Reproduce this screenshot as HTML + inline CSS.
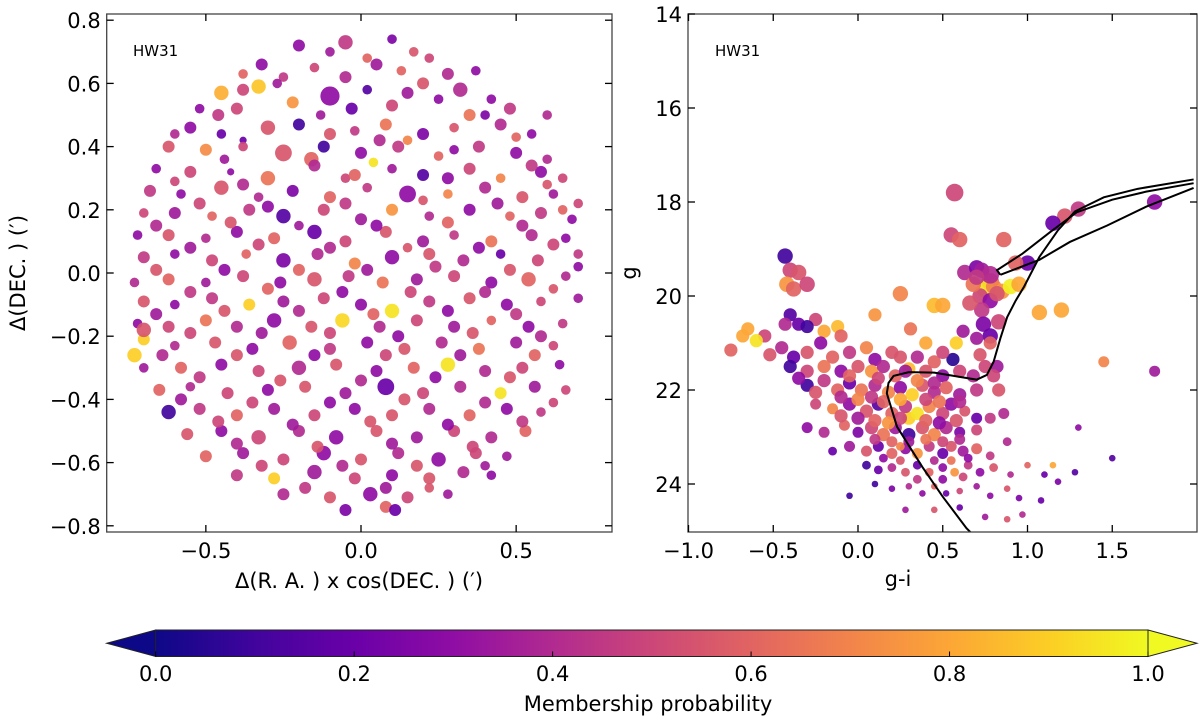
<!DOCTYPE html>
<html><head><meta charset="utf-8"><style>
html,body{margin:0;padding:0;background:#fff;}
svg{display:block;font-family:"DejaVu Sans","Liberation Sans",sans-serif;}
</style></head><body>
<svg id="fig" width="1200" height="723" viewBox="0 0 1200 723" xmlns="http://www.w3.org/2000/svg">
<defs>
<linearGradient id="plasma" x1="0" x2="1" y1="0" y2="0">
<stop offset="0" stop-color="#0d0887"/><stop offset="0.1" stop-color="#41049d"/><stop offset="0.2" stop-color="#6a00a8"/><stop offset="0.3" stop-color="#8f0da4"/><stop offset="0.4" stop-color="#b12a90"/><stop offset="0.5" stop-color="#cc4778"/><stop offset="0.6" stop-color="#e16462"/><stop offset="0.7" stop-color="#f2844b"/><stop offset="0.8" stop-color="#fca636"/><stop offset="0.9" stop-color="#fcce25"/><stop offset="1" stop-color="#f0f921"/>
</linearGradient>
<clipPath id="clipL"><rect x="106.7" y="14" width="505.3" height="518"/></clipPath>
<clipPath id="clipR"><rect x="688" y="14" width="509" height="518"/></clipPath>
</defs>
<g id="left"></g>
<g id="right"></g>
<g id="cbar"></g>
</svg>
<script>
const leftXTicks=[-0.5,0.0,0.5];
const leftYTicks=[-0.8,-0.6,-0.4,-0.2,0.0,0.2,0.4,0.6,0.8];
const rightXTicks=[-1.0,-0.5,0.0,0.5,1.0,1.5];
const rightYTicks=[14,16,18,20,22,24];
const cbarTicks=[0.0,0.2,0.4,0.6,0.8,1.0];
// [dx, dy, prob, radius]
const leftStars=[
[-0.2,0.72,0.3,5],[-0.05,0.73,0.45,6],[0.1,0.74,0.25,4],[0.17,0.7,0.55,4],[0.02,0.68,0.6,4],
[-0.32,0.66,0.3,5],[-0.15,0.65,0.5,4],[0.05,0.66,0.35,5],[0.13,0.64,0.6,4],[0.28,0.63,0.4,5],[-0.25,0.62,0.45,4],
[-0.45,0.57,0.82,6],[-0.38,0.58,0.5,5],[-0.27,0.6,0.35,4],[-0.1,0.56,0.3,8],[0.02,0.58,0.15,4],[0.2,0.6,0.55,5],[0.32,0.58,0.4,6],[0.42,0.55,0.3,4],[-0.33,0.59,0.88,6],
[-0.52,0.52,0.3,4],[-0.4,0.52,0.5,5],[-0.22,0.54,0.75,5],[-0.13,0.5,0.35,4],[-0.03,0.52,0.2,5],[0.1,0.53,0.5,5],[0.25,0.55,0.3,4],[0.35,0.5,0.65,5],[0.48,0.52,0.45,5],[0.6,0.5,0.4,4],
[-0.55,0.46,0.3,5],[-0.45,0.44,0.2,4],[-0.3,0.46,0.55,6],[-0.2,0.47,0.1,5],[-0.02,0.45,0.45,4],[0.08,0.47,0.65,5],[0.2,0.44,0.25,5],[0.3,0.46,0.55,4],[0.45,0.47,0.4,5],[0.55,0.44,0.3,4],[-0.38,0.42,0.2,3],[0.15,0.42,0.7,4],
[-0.62,0.4,0.55,5],[-0.5,0.39,0.72,5],[-0.38,0.4,0.5,4],[-0.25,0.38,0.55,7],[-0.12,0.4,0.1,5],[0.0,0.38,0.3,5],[0.12,0.4,0.45,5],[0.25,0.37,0.6,4],[0.38,0.4,0.45,5],[0.5,0.38,0.3,5],[0.6,0.36,0.4,4],[-0.16,0.36,0.6,6],
[-0.66,0.33,0.3,4],[-0.55,0.32,0.5,5],[-0.42,0.32,0.3,3],[-0.3,0.3,0.65,6],[-0.15,0.34,0.4,5],[-0.05,0.3,0.5,4],[0.1,0.33,0.35,4],[0.2,0.31,0.15,5],[0.35,0.33,0.5,5],[0.45,0.3,0.7,4],[0.58,0.32,0.3,5],[0.65,0.3,0.5,4],[0.04,0.35,0.95,4],
[-0.68,0.26,0.45,5],[-0.58,0.25,0.3,4],[-0.45,0.27,0.55,6],[-0.33,0.24,0.4,4],[-0.22,0.26,0.25,5],[-0.1,0.24,0.6,5],[0.02,0.27,0.45,4],[0.15,0.25,0.3,7],[0.28,0.25,0.7,4],[0.4,0.27,0.4,5],[0.52,0.24,0.55,5],[0.62,0.25,0.35,4],[0.7,0.22,0.5,4],
[-0.7,0.19,0.5,4],[-0.6,0.19,0.35,5],[-0.48,0.18,0.6,4],[-0.36,0.2,0.45,5],[-0.25,0.18,0.15,6],[-0.12,0.2,0.5,5],[0.0,0.17,0.35,5],[0.1,0.2,0.75,5],[0.22,0.18,0.4,4],[0.35,0.2,0.3,5],[0.48,0.18,0.6,4],[0.58,0.19,0.45,5],[0.68,0.17,0.3,4],
[-0.72,0.12,0.3,4],[-0.62,0.12,0.55,5],[-0.5,0.11,0.4,4],[-0.4,0.13,0.3,5],[-0.28,0.11,0.6,5],[-0.15,0.13,0.2,6],[-0.05,0.1,0.5,5],[0.08,0.13,0.55,5],[0.2,0.1,0.35,5],[0.3,0.12,0.45,4],[0.42,0.1,0.65,5],[0.55,0.12,0.4,5],[0.66,0.11,0.3,4],
[-0.7,0.05,0.45,5],[-0.6,0.06,0.3,4],[-0.48,0.04,0.5,5],[-0.37,0.06,0.6,4],[-0.25,0.04,0.25,6],[-0.14,0.06,0.4,5],[-0.02,0.03,0.7,5],[0.1,0.05,0.3,6],[0.22,0.06,0.55,5],[0.33,0.04,0.4,5],[0.45,0.06,0.2,4],[0.57,0.04,0.5,5],[0.7,0.06,0.45,4],
[-0.73,-0.03,0.4,4],[-0.62,-0.02,0.6,5],[-0.5,-0.03,0.35,4],[-0.38,-0.01,0.5,5],[-0.26,-0.03,0.3,5],[-0.15,-0.02,0.55,6],[-0.04,-0.01,0.45,5],[0.07,-0.03,0.65,5],[0.18,-0.02,0.35,5],[0.3,-0.01,0.5,5],[0.42,-0.03,0.3,5],[0.54,-0.02,0.6,6],[0.66,-0.01,0.4,4],
[-0.7,-0.09,0.55,5],[-0.6,-0.1,0.3,4],[-0.48,-0.08,0.45,5],[-0.36,-0.1,0.9,5],[-0.25,-0.09,0.35,5],[-0.12,-0.08,0.5,5],[0.0,-0.1,0.3,5],[0.1,-0.12,0.95,6],[0.22,-0.09,0.45,5],[0.35,-0.08,0.55,5],[0.47,-0.1,0.3,5],[0.58,-0.09,0.5,4],[0.7,-0.08,0.35,4],
[-0.72,-0.16,0.3,4],[-0.62,-0.17,0.5,5],[-0.5,-0.15,0.65,5],[-0.4,-0.17,0.4,5],[-0.28,-0.15,0.3,6],[-0.16,-0.17,0.55,5],[-0.06,-0.15,0.92,6],[0.06,-0.17,0.4,5],[0.18,-0.15,0.5,5],[0.3,-0.17,0.35,5],[0.42,-0.15,0.6,4],[0.54,-0.17,0.3,5],[0.65,-0.16,0.45,4],
[-0.7,-0.21,0.9,5],[-0.6,-0.23,0.4,4],[-0.47,-0.22,0.55,5],[-0.35,-0.24,0.3,5],[-0.23,-0.22,0.6,6],[-0.1,-0.24,0.45,5],[0.02,-0.22,0.3,5],[0.14,-0.24,0.55,5],[0.26,-0.22,0.4,5],[0.38,-0.24,0.65,5],[0.5,-0.22,0.35,5],[0.62,-0.23,0.5,4],[-0.7,-0.18,0.55,6],
[-0.7,-0.3,0.35,4],[-0.58,-0.3,0.6,5],[-0.45,-0.29,0.3,5],[-0.33,-0.31,0.5,5],[-0.2,-0.3,0.4,6],[-0.08,-0.29,0.55,5],[0.05,-0.31,0.3,5],[0.17,-0.3,0.6,5],[0.28,-0.29,0.95,6],[0.4,-0.31,0.4,5],[0.52,-0.3,0.5,5],[0.64,-0.29,0.3,4],[-0.73,-0.26,0.9,6],
[-0.65,-0.37,0.6,5],[-0.55,-0.36,0.4,4],[-0.43,-0.38,0.5,5],[-0.3,-0.37,0.3,5],[-0.18,-0.36,0.55,5],[-0.05,-0.38,0.35,5],[0.08,-0.36,0.2,7],[0.2,-0.38,0.5,5],[0.32,-0.36,0.4,5],[0.45,-0.38,0.95,5],[0.56,-0.36,0.35,5],[0.66,-0.37,0.5,4],
[-0.62,-0.44,0.1,6],[-0.52,-0.43,0.45,5],[-0.4,-0.45,0.6,5],[-0.28,-0.43,0.35,5],[-0.15,-0.45,0.5,5],[-0.02,-0.43,0.3,5],[0.1,-0.45,0.55,5],[0.22,-0.43,0.4,5],[0.35,-0.45,0.6,5],[0.47,-0.43,0.3,5],[0.58,-0.44,0.45,4],
[-0.56,-0.51,0.55,5],[-0.45,-0.5,0.3,5],[-0.33,-0.52,0.5,6],[-0.2,-0.5,0.4,5],[-0.08,-0.52,0.3,6],[0.05,-0.5,0.55,5],[0.18,-0.52,0.35,5],[0.3,-0.5,0.5,5],[0.42,-0.52,0.4,5],[0.53,-0.5,0.6,5],
[-0.5,-0.58,0.6,5],[-0.38,-0.57,0.35,5],[-0.25,-0.59,0.5,5],[-0.12,-0.57,0.3,6],[0.0,-0.59,0.55,5],[0.12,-0.57,0.4,5],[0.25,-0.59,0.3,6],[0.37,-0.57,0.5,5],[0.47,-0.58,0.35,4],
[-0.4,-0.64,0.45,5],[-0.28,-0.65,0.9,5],[-0.15,-0.63,0.35,6],[-0.02,-0.65,0.5,5],[0.1,-0.64,0.3,5],[0.22,-0.65,0.55,5],[0.33,-0.63,0.4,5],[0.42,-0.64,0.3,4],
[-0.25,-0.7,0.4,5],[-0.1,-0.71,0.55,5],[0.03,-0.7,0.3,6],[0.15,-0.71,0.5,5],[0.28,-0.7,0.35,4],
[-0.05,-0.75,0.25,5],[0.08,-0.74,0.6,5],[0.11,-0.75,0.2,5],
[-0.1,0.7,0.35,4],[0.22,0.68,0.5,4],[-0.38,0.63,0.6,4],[-0.05,0.62,0.4,5],[0.37,0.64,0.3,4],[-0.46,0.5,0.45,5],[0.15,0.57,0.35,5],[0.4,0.5,0.25,4],[-0.6,0.44,0.4,4],[-0.1,0.44,0.55,5],[0.5,0.43,0.6,4],
[-0.44,0.36,0.35,4],[0.06,0.42,0.4,5],[0.3,0.39,0.3,4],[0.55,0.34,0.45,5],[-0.6,0.29,0.5,4],[-0.38,0.28,0.4,5],[-0.02,0.31,0.6,5],[0.28,0.3,0.3,5],[0.6,0.28,0.55,4],
[-0.52,0.22,0.5,5],[-0.3,0.21,0.3,5],[-0.05,0.22,0.45,5],[0.2,0.23,0.55,4],[0.44,0.22,0.35,5],[0.65,0.2,0.6,4],[-0.66,0.15,0.4,5],[-0.42,0.16,0.55,5],[-0.2,0.15,0.35,4],[0.05,0.15,0.3,5],[0.28,0.16,0.6,5],[0.52,0.15,0.4,5],
[-0.55,0.08,0.35,5],[-0.33,0.09,0.5,5],[-0.1,0.08,0.4,5],[0.15,0.08,0.55,4],[0.38,0.08,0.3,5],[0.62,0.09,0.5,5],[-0.66,0.01,0.55,5],[-0.44,0.01,0.3,5],[-0.2,0.01,0.6,5],[0.02,0.01,0.35,5],[0.24,0.02,0.45,5],[0.48,0.01,0.55,5],[0.7,0.02,0.3,4],
[-0.55,-0.06,0.45,5],[-0.3,-0.05,0.6,5],[-0.06,-0.06,0.3,5],[0.16,-0.06,0.5,5],[0.4,-0.06,0.4,5],[0.62,-0.05,0.55,4],[-0.66,-0.13,0.35,5],[-0.44,-0.12,0.55,5],[-0.2,-0.12,0.4,5],[0.04,-0.13,0.6,5],[0.28,-0.12,0.3,5],[0.5,-0.13,0.45,5],
[-0.55,-0.19,0.5,5],[-0.32,-0.19,0.35,5],[-0.1,-0.19,0.5,5],[0.12,-0.2,0.3,5],[0.36,-0.19,0.55,5],[0.58,-0.2,0.4,5],[-0.64,-0.26,0.4,5],[-0.4,-0.26,0.55,5],[-0.15,-0.26,0.3,5],[0.08,-0.26,0.5,5],[0.32,-0.26,0.35,5],[0.56,-0.26,0.6,5],
[-0.52,-0.33,0.45,5],[-0.26,-0.34,0.55,5],[0.0,-0.34,0.4,5],[0.24,-0.33,0.3,5],[0.48,-0.33,0.55,5],[-0.58,-0.4,0.35,5],[-0.35,-0.41,0.5,5],[-0.1,-0.41,0.3,5],[0.14,-0.4,0.55,5],[0.4,-0.41,0.4,5],[0.62,-0.41,0.5,4],
[-0.46,-0.47,0.5,5],[-0.22,-0.48,0.35,5],[0.03,-0.47,0.55,5],[0.28,-0.48,0.3,5],[0.52,-0.47,0.45,5],[-0.4,-0.54,0.4,5],[-0.14,-0.55,0.55,5],[0.1,-0.54,0.35,5],[0.36,-0.55,0.5,5],[-0.32,-0.61,0.5,5],[-0.06,-0.61,0.4,5],[0.18,-0.61,0.55,5],[0.4,-0.61,0.35,4],
[-0.18,-0.68,0.45,5],[0.08,-0.68,0.35,5],[0.22,-0.68,0.55,4]
];
// [g-i, g, prob, radius]
const cmdStars=[
[0.57,17.8,0.5,8],[1.75,18.0,0.3,7],[1.3,18.15,0.45,7],[1.22,18.3,0.55,7],[1.15,18.45,0.2,7],[0.55,18.7,0.5,7],[0.6,18.8,0.6,7],[0.86,18.8,0.6,7],
[0.63,19.5,0.4,7],[0.7,19.4,0.25,7],[0.73,19.45,0.35,7],[0.78,19.7,0.55,8],[0.75,19.85,0.95,8],[0.8,19.8,0.7,7],[0.72,20.0,0.5,7],[0.68,19.75,0.65,7],[0.85,19.9,0.75,7],[0.9,19.8,0.98,7],[0.95,19.75,0.8,7],[1.0,19.3,0.2,7],[0.93,19.3,0.6,7],[0.78,20.1,0.3,7],[0.73,20.3,0.45,7],[0.74,20.6,0.25,7],[0.78,20.85,0.2,7],[0.83,20.55,0.5,7],[1.07,20.35,0.8,7],[1.2,20.3,0.8,7],[0.62,20.75,0.35,6],[0.58,21.0,0.9,6],[0.56,21.35,0.05,6],[0.75,21.5,0.5,6],[0.78,21.0,0.6,6],[0.82,21.5,0.35,6],[0.8,21.7,0.5,6],[0.83,22.0,0.55,6],[0.86,22.5,0.4,5],[0.78,22.6,0.45,5],[1.45,21.4,0.7,5],[1.75,21.6,0.35,5],[0.78,19.55,0.4,8],[0.82,19.95,0.55,7],[0.7,19.6,0.45,7],[0.66,20.15,0.55,7],[0.7,20.9,0.35,6],[0.72,21.25,0.55,6],[0.68,21.7,0.4,6],
[-0.43,19.15,0.1,7],[-0.4,19.45,0.5,7],[-0.35,19.5,0.55,7],[-0.42,19.75,0.75,7],[-0.38,19.85,0.6,7],[-0.3,19.75,0.5,7],[-0.25,20.5,0.5,6],[-0.4,20.4,0.15,6],[-0.43,20.6,0.4,6],[-0.35,20.6,0.2,6],[-0.3,20.65,0.1,6],[-0.2,20.75,0.8,6],[-0.12,20.65,0.85,6],[-0.1,20.85,0.6,6],[-0.55,20.85,0.5,6],[-0.65,20.7,0.8,6],[-0.68,20.85,0.8,6],[-0.6,20.95,0.95,6],[-0.75,21.15,0.6,6],[-0.52,21.25,0.55,6],[0.1,20.4,0.75,6],[0.25,19.95,0.7,7],[0.31,20.7,0.65,6],[0.45,20.2,0.85,7],[0.5,20.2,0.8,7],[0.4,21.0,0.8,6],[0.25,21.3,0.55,6],[0.3,21.55,0.85,6],[0.3,22.6,0.9,6],
[-0.45,21.1,0.4,6],[-0.38,21.3,0.2,6],[-0.3,21.2,0.55,6],[-0.22,21.0,0.3,6],[-0.15,21.3,0.6,6],[-0.05,21.2,0.45,6],[0.05,21.1,0.7,6],[0.1,21.35,0.3,6],[0.2,21.2,0.55,6],[0.35,21.3,0.4,6],[0.45,21.4,0.6,6],[0.5,21.2,0.5,6],
[-0.4,21.5,0.1,6],[-0.3,21.6,0.5,6],[-0.2,21.5,0.65,6],[-0.1,21.6,0.3,6],[0.0,21.5,0.55,6],[0.08,21.6,0.75,6],[0.15,21.5,0.4,6],[0.22,21.7,0.6,6],[0.28,21.6,0.35,6],[0.4,21.6,0.55,6],[0.5,21.7,0.3,6],[0.6,21.6,0.5,6],
[-0.3,21.9,0.1,6],[-0.2,21.8,0.45,6],[-0.12,22.0,0.6,6],[-0.05,21.85,0.2,6],[0.02,22.0,0.65,6],[0.1,21.9,0.4,6],[0.18,22.05,0.7,6],[0.25,21.95,0.3,6],[0.32,22.1,0.9,6],[0.38,21.9,0.55,6],[0.45,22.05,0.4,6],[0.52,21.95,0.6,6],[0.6,22.1,0.35,6],[0.7,22.0,0.45,6],
[-0.25,22.3,0.5,5],[-0.15,22.4,0.7,5],[-0.05,22.3,0.3,6],[0.05,22.45,0.55,6],[0.12,22.3,0.15,6],[0.2,22.5,0.6,6],[0.28,22.35,0.45,6],[0.35,22.5,0.95,6],[0.42,22.35,0.7,6],[0.5,22.5,0.5,6],[0.55,22.3,0.3,6],[0.63,22.45,0.55,5],[0.7,22.6,0.2,5],
[-0.3,22.8,0.3,5],[-0.2,22.9,0.4,5],[-0.08,22.75,0.6,5],[0.0,22.9,0.25,5],[0.08,22.8,0.5,6],[0.15,22.95,0.65,6],[0.22,22.8,0.35,6],[0.3,22.95,0.1,6],[0.38,22.8,0.55,6],[0.45,22.95,0.7,6],[0.52,22.8,0.4,6],[0.6,22.9,0.25,5],[0.7,22.85,0.5,5],
[-0.15,23.3,0.2,4],[-0.05,23.2,0.35,5],[0.05,23.3,0.55,5],[0.12,23.2,0.2,5],[0.2,23.35,0.6,5],[0.28,23.25,0.3,5],[0.35,23.35,0.75,5],[0.42,23.2,0.45,5],[0.5,23.35,0.2,5],[0.55,23.2,0.55,5],[0.62,23.3,0.35,5],[0.7,23.25,0.6,5],[0.78,23.4,0.45,4],[0.88,23.1,0.4,4],
[0.05,23.6,0.1,4],[0.12,23.7,0.2,4],[0.2,23.65,0.4,4],[0.28,23.75,0.55,4],[0.35,23.6,0.2,4],[0.42,23.75,0.6,4],[0.5,23.65,0.3,4],[0.57,23.75,0.75,4],[0.65,23.6,0.45,4],[0.72,23.75,0.3,4],[0.8,23.65,0.55,4],[0.9,23.8,0.4,3],[1.0,23.6,0.6,3],[1.1,23.8,0.2,3],
[0.2,24.1,0.25,3],[0.3,24.05,0.4,3],[0.38,24.2,0.3,3],[0.45,24.05,0.6,3],[0.52,24.2,0.2,3],[0.6,24.15,0.5,3],[0.7,24.05,0.35,3],[0.78,24.25,0.3,3],[0.88,24.1,0.55,3],[0.95,24.3,0.25,3],[1.08,24.35,0.2,3],[1.15,23.6,0.8,3],[1.18,23.95,0.25,3],[1.3,22.8,0.3,3],[1.28,23.75,0.15,3],[1.5,23.45,0.15,3],
[0.28,24.55,0.35,3],[0.45,24.55,0.55,3],[0.6,24.5,0.2,3],[0.75,24.7,0.35,3],[0.88,24.75,0.55,3],[0.97,24.65,0.4,3],[0.25,23.2,0.7,4],[0.1,24.0,0.1,3],[-0.05,24.25,0.1,3],
[-0.35,21.75,0.3,6],[-0.25,22.05,0.55,6],[-0.1,22.15,0.4,6],[0.0,22.2,0.7,6],[0.08,22.15,0.45,6],[0.15,22.25,0.6,6],[0.25,22.2,0.8,6],[0.4,22.2,0.5,6],[0.48,22.25,0.65,6],[0.6,22.25,0.4,6],
[-0.1,22.55,0.55,6],[0.0,22.6,0.35,6],[0.1,22.65,0.6,6],[0.18,22.7,0.75,6],[0.25,22.6,0.5,6],[0.4,22.65,0.6,6],[0.48,22.7,0.3,6],[0.58,22.65,0.55,6],[0.1,23.05,0.45,5],[0.2,23.1,0.6,5],[0.3,23.1,0.35,5],[0.4,23.05,0.65,5],[0.5,23.1,0.5,5],[0.6,23.05,0.4,5],
[0.15,23.45,0.3,4],[0.25,23.5,0.55,4],[0.45,23.5,0.4,4],[0.55,23.5,0.65,4],[0.65,23.45,0.3,4],[0.35,23.9,0.45,4],[0.5,23.9,0.3,4],[0.62,23.85,0.5,4],[-0.05,21.7,0.6,6],[0.12,21.75,0.5,6],[0.35,21.8,0.7,6],[0.45,21.85,0.4,6]
];
// isochrone branches [g-i, g]
const isoMain=[[0.67,25.05],[0.64,24.94],[0.5,24.27],[0.38,23.64],[0.23,22.78],[0.17,22.07],[0.18,21.85],[0.21,21.7],[0.3,21.62],[0.45,21.63],[0.6,21.72],[0.7,21.78],[0.76,21.68],[0.8,21.4],[0.84,20.9],[0.88,20.45],[0.93,20.1],[0.98,19.8],[1.07,19.17],[1.18,18.6],[1.28,18.2],[1.45,17.9],[1.65,17.72],[1.98,17.52]];
const isoAgb=[[0.84,19.55],[0.82,19.45],[0.97,19.1],[1.13,18.65],[1.29,18.22],[1.5,17.95],[1.7,17.78],[1.98,17.6]];
const isoLoop=[[0.84,19.55],[1.07,19.23],[1.25,18.85],[1.47,18.5],[1.7,18.1],[1.98,17.7]];

const NS='http://www.w3.org/2000/svg';
function mk(tag,attrs,parent){const e=document.createElementNS(NS,tag);for(const k in attrs)e.setAttribute(k,attrs[k]);parent.appendChild(e);return e;}
const stops=[[0,13,8,135],[0.1,65,4,157],[0.2,106,0,168],[0.3,143,13,164],[0.4,177,42,144],[0.5,204,71,120],[0.6,225,100,98],[0.7,242,132,75],[0.8,252,166,54],[0.9,252,206,37],[1,240,249,33]];
function plasma(t){t=Math.max(0,Math.min(1,t));for(let i=1;i<stops.length;i++){if(t<=stops[i][0]){const a=stops[i-1],b=stops[i],f=(t-a[0])/(b[0]-a[0]);return 'rgb('+[1,2,3].map(j=>Math.round(a[j]+f*(b[j]-a[j]))).join(',')+')';}}return 'rgb(240,249,33)';}

const L={x0:106.7,x1:612,y0:14,y1:532};
const lx=v=>361+310.3*v, ly=v=>273+316*(-v);
const R={x0:688,x1:1197,y0:14,y1:532};
const rx=v=>858+169.5*v, ry=v=>14+47*(v-14);

const left=document.getElementById('left'), right=document.getElementById('right'), cb=document.getElementById('cbar');

const lpts=mk('g',{'clip-path':'url(#clipL)'},left);


leftStars.forEach(s=>{const c=mk('circle',{cx:lx(s[0]),cy:ly(s[1]),r:s[3]*1.2,fill:plasma(s[2]),'fill-opacity':0.92},lpts);

});

const rpts=mk('g',{'clip-path':'url(#clipR)'},right);


cmdStars.forEach(s=>{const c=mk('circle',{cx:rx(s[0]),cy:ry(s[1]),r:s[3]*1.1,fill:plasma(s[2]),'fill-opacity':0.92},rpts);

});
[['isochrone-main',isoMain],['isochrone-agb',isoAgb],['isochrone-loop',isoLoop]].forEach(([n,arr])=>{
const p=mk('polyline',{points:arr.map(q=>rx(q[0])+','+ry(q[1])).join(' '),fill:'none',stroke:'#000','stroke-width':2},rpts);

});

function frame(parent,A,xt,yt,fx,fy,fmt,fmtY,name){
const f=mk('rect',{x:A.x0,y:A.y0,width:A.x1-A.x0,height:A.y1-A.y0,fill:'none',stroke:'#444','stroke-width':1.3},parent);


xt.forEach(v=>{const x=fx(v);
mk('line',{x1:x,x2:x,y1:A.y1,y2:A.y1-7,stroke:'#000','stroke-width':1.3},parent);
mk('line',{x1:x,x2:x,y1:A.y0,y2:A.y0+7,stroke:'#000','stroke-width':1.3},parent);
const t=mk('text',{x:x,y:A.y1+26,'font-size':21,'text-anchor':'middle',fill:'#000'},parent);t.textContent=fmt(v);

});
yt.forEach(v=>{const y=fy(v);
mk('line',{x1:A.x0,x2:A.x0+7,y1:y,y2:y,stroke:'#000','stroke-width':1.3},parent);
mk('line',{x1:A.x1,x2:A.x1-7,y1:y,y2:y,stroke:'#000','stroke-width':1.3},parent);
const t=mk('text',{x:A.x0-6,y:y+8,'font-size':21,'text-anchor':'end',fill:'#000'},parent);t.textContent=fmtY(v);

});
}
const m=v=>(v<0?'\u2212':'')+Math.abs(v).toFixed(1);
frame(left,L,leftXTicks,leftYTicks,lx,ly,m,m,'left');
frame(right,R,rightXTicks,rightYTicks,rx,ry,m,v=>String(v),'right');

function txt(parent,attrs,s,name){const t=mk('text',attrs,parent);t.textContent=s;

return t;}
txt(left,{x:133,y:56,'font-size':15,fill:'#000'},'HW31','left-cluster-label');
txt(right,{x:715,y:56,'font-size':15,fill:'#000'},'HW31','right-cluster-label');
txt(left,{x:359,y:588,'font-size':21,'text-anchor':'middle',fill:'#000'},'\u0394(R. A. ) x cos(DEC. ) (\u2032)','left-x-axis-title');
txt(left,{x:0,y:0,'font-size':21,'text-anchor':'middle',fill:'#000',transform:'translate(25,273) rotate(-90)'},'\u0394(DEC. ) (\u2032)','left-y-axis-title');
txt(right,{x:898,y:586,'font-size':21,'text-anchor':'middle',fill:'#000'},'g-i','right-x-axis-title');
txt(right,{x:0,y:0,'font-size':21,'text-anchor':'middle',fill:'#000',transform:'translate(636,273) rotate(-90)'},'g','right-y-axis-title');

const C={x0:155.7,x1:1148,y0:630,y1:656.5};
const cx=v=>C.x0+(C.x1-C.x0)*v;
const lo=mk('polygon',{points:`${C.x0},${C.y0} 106.7,${(C.y0+C.y1)/2} ${C.x0},${C.y1}`,fill:plasma(0),stroke:'#222','stroke-width':1},cb);


const hi=mk('polygon',{points:`${C.x1},${C.y0} 1197,${(C.y0+C.y1)/2} ${C.x1},${C.y1}`,fill:plasma(1),stroke:'#222','stroke-width':1},cb);


const bar=mk('rect',{x:C.x0,y:C.y0,width:C.x1-C.x0,height:C.y1-C.y0,fill:'url(#plasma)',stroke:'#222','stroke-width':1},cb);


cbarTicks.forEach(v=>{mk('line',{x1:cx(v),x2:cx(v),y1:C.y1,y2:C.y1-5,stroke:'#000','stroke-width':1},cb);
txt(cb,{x:cx(v),y:681,'font-size':21,'text-anchor':'middle',fill:'#000'},v.toFixed(1),'colorbar-tick-label');});
txt(cb,{x:648,y:711,'font-size':21,'text-anchor':'middle',fill:'#000'},'Membership probability','colorbar-title');
</script>
</body></html>
